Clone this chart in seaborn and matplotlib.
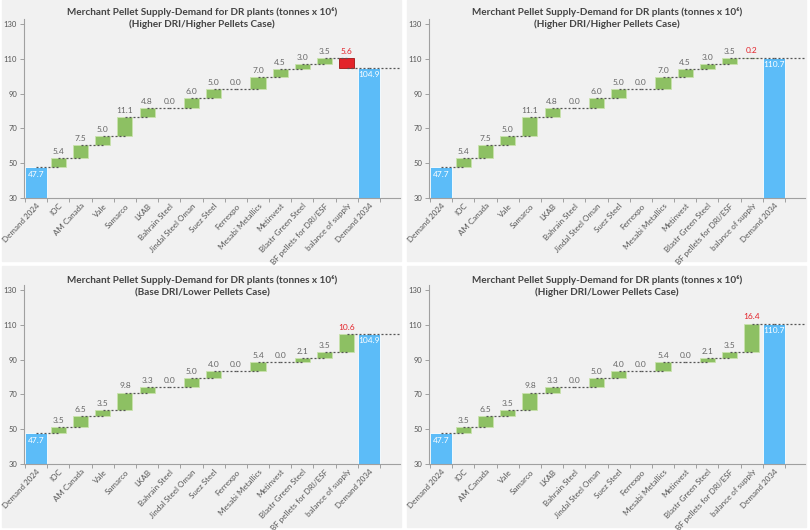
import numpy as np
import pandas as pd
import seaborn as sns
import matplotlib.pyplot as plt
from matplotlib.patches import Rectangle

sns.set_theme(style="white")
plt.rcParams['font.family'] = ['Lato', 'DejaVu Sans']

# --- data ---
categories = ["Demand 2024", "IOC", "AM Canada", "Vale", "Samarco", "LKAB",
              "Bahrain Steel", "Jindal Steel Oman", "Suez Steel", "Ferrexpo",
              "Mesabi Metallics", "Metinvest", "Blastr Green Steel",
              "BF pellets for DRI/ESF", "balance of supply", "Demand 2034"]
demand_2024 = 47.7
higher_pellets = [5.4, 7.5, 5.0, 11.1, 4.8, 0.0, 6.0, 5.0, 0.0, 7.0, 4.5, 3.0, 3.5]
lower_pellets = [3.5, 6.5, 3.5, 9.8, 3.3, 0.0, 5.0, 4.0, 0.0, 5.4, 0.0, 2.1, 3.5]
balance = [-5.6, 0.2, 10.6, 16.4]
demand_2034 = [104.9, 110.7, 104.9, 110.7]
cases = ["(Higher DRI/Higher Pellets Case)", "(Higher DRI/Higher Pellets Case)",
         "(Base DRI/Lower Pellets Case)", "(Higher DRI/Lower Pellets Case)"]
supply_sets = [higher_pellets, higher_pellets, lower_pellets, lower_pellets]

BLUE = '#5cbcf8'
GREEN = '#8dc063'
RED = '#e3232a'
BG = '#f1f1f1'
GREY = '#666666'

W, H = 810, 530
fig = plt.figure(figsize=(W / 100, H / 100), dpi=100)

for k in range(4):
    col, row = k % 2, k // 2
    px0 = 2 + col * 405
    py0 = row * 266

    # panel background
    fig.patches.append(Rectangle((px0 / W, 1 - (py0 + 261) / H), 399 / W, 261 / H,
                                 transform=fig.transFigure, color=BG, zorder=-10))
    ax = fig.add_axes([(px0 + 22) / W, 1 - (py0 + 198) / H, 376 / W, 179 / H])
    ax.set_facecolor('none')

    steps = [demand_2024] + supply_sets[k] + [balance[k]]
    running = np.cumsum(steps)
    n = len(categories)
    base = np.zeros(n)
    blue_h = np.zeros(n)
    green_h = np.zeros(n)
    red_h = np.zeros(n)
    blue_h[0] = demand_2024
    blue_h[-1] = demand_2034[k]
    for i in range(1, n - 1):
        base[i] = running[i - 1]
        if steps[i] >= 0:
            green_h[i] = steps[i]
        else:
            red_h[i] = steps[i]

    df = pd.DataFrame({'category': categories, 'base': base,
                       'blue': blue_h, 'green': green_h, 'red': red_h})

    sns.barplot(data=df, x='category', y='blue', order=categories, bottom=df['base'].to_numpy(),
                width=0.97, color=BLUE, saturation=1, edgecolor='white', linewidth=0.6,
                errorbar=None, ax=ax, zorder=2)
    sns.barplot(data=df, x='category', y='green', order=categories, bottom=df['base'].to_numpy(),
                width=0.68, color=GREEN, saturation=1, edgecolor='#c9e2ad', linewidth=0.6,
                errorbar=None, ax=ax, zorder=2)
    sns.barplot(data=df, x='category', y='red', order=categories, bottom=df['base'].to_numpy(),
                width=0.68, color=RED, saturation=1, edgecolor='#a01414', linewidth=0.6,
                errorbar=None, ax=ax, zorder=2)
    for p in ax.patches:
        if abs(p.get_height()) < 1e-9:
            p.set_visible(False)

    # connectors
    levels = list(running[:-1]) + [demand_2034[k]]
    for i in range(n - 1):
        ax.plot([i, i + 1], [levels[i], levels[i]], ls=(0, (1.6, 1.6)), color='#555555',
                lw=0.9, zorder=3)
    ax.plot([n - 1, n + 0.4], [levels[-1], levels[-1]], ls=(0, (1.6, 1.6)), color='#555555',
            lw=0.9, zorder=3)

    # value labels
    for i in range(n):
        if i in (0, n - 1):
            ax.text(i, blue_h[i] - 3.9, f'{blue_h[i]:.1f}', ha='center', va='center',
                    fontsize=6, color='white', zorder=4)
        else:
            top = max(base[i], base[i] + steps[i])
            ax.text(i, top + 3.9, f'{abs(steps[i]):.1f}', ha='center', va='center',
                    fontsize=6, color=RED if i == n - 2 else GREY, zorder=4)

    ax.set_xlim(-0.55, n + 0.4)
    ax.set_ylim(30, 133)
    ax.set_yticks([30, 50, 70, 90, 110, 130])
    ax.set_xticks(range(n))
    ax.set_xticklabels(categories, rotation=47, ha='right', rotation_mode='anchor',
                       fontsize=5.8, color='#555555')
    ax.set_xticks(np.arange(-0.5, n), minor=True)
    ax.tick_params(axis='x', which='major', length=0, pad=3)
    ax.tick_params(axis='x', which='minor', length=3, width=0.7, color='#a0a0a0',
                   direction='out', bottom=True)
    ax.tick_params(axis='y', length=3, width=0.7, color='#a0a0a0', labelsize=5.5,
                   labelcolor='#555555', left=True, pad=2)
    ax.set_xlabel('')
    ax.set_ylabel('')
    for side in ['top', 'right']:
        ax.spines[side].set_visible(False)
    for side in ['left', 'bottom']:
        ax.spines[side].set_color('#a0a0a0')
        ax.spines[side].set_linewidth(0.8)

    title_y = py0 + (18 if row == 0 else 20)
    fig.text((px0 + 200) / W, 1 - title_y / H,
             "Merchant Pellet Supply-Demand for DR plants (tonnes x 10\u2076)\n" + cases[k],
             ha='center', va='center', fontsize=7.2, fontweight='bold', color='#444444',
             linespacing=1.45)

fig.savefig('out.png', dpi=100, facecolor='white')
